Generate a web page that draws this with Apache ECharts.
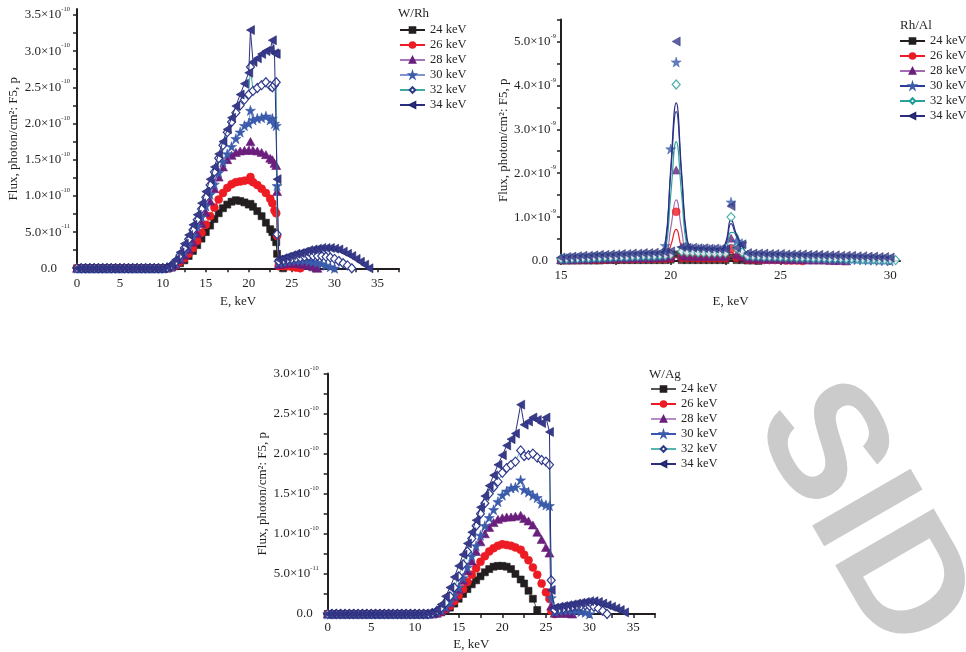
<!DOCTYPE html>
<html>
<head>
<meta charset="utf-8">
<script src="https://cdn.jsdelivr.net/npm/echarts@6/dist/echarts.min.js"></script>
<style>
html,body{margin:0;padding:0;background:#ffffff;}
#chart{width:966px;height:652px;}
</style>
</head>
<body>
<div id="chart"></div>
<script>
// ---------- W/Rh spectra (flux in units of 1e-10) ----------
const eWRh = [0,0.5,1,1.5,2,2.5,3,3.5,4,4.5,5,5.5,6,6.5,7,7.5,8,8.5,9,9.5,10,10.5,11,11.5,12,12.5,13,13.5,14,14.5,15,15.5,16,16.5,17,17.5,18,18.5,19,19.5,20,20.2,20.5,21,21.5,22,22.5,22.75,23,23.2,23.3,23.5,24,24.5,25,25.5,26,26.5,27,27.5,28,28.5,29,29.5,30,30.5,31,31.5,32,32.5,33,33.5,34];
const wRh24 = [0,0,0,0,0,0,0,0,0,0,0,0,0,0,0,0,0,0,0,0,0, 0,0.01,0.03,0.07,0.11,0.17,0.24,0.32,0.41,0.5,0.59,0.68,0.76,0.83,0.88,0.92,0.94,0.93,0.91,0.88, 0.89,0.85,0.79,0.72,0.63,0.54,0.5,0.43,0.36,0.2,0.06,0];
const wRh26 = [0,0,0,0,0,0,0,0,0,0,0,0,0,0,0,0,0,0,0,0,0, 0,0.015,0.04,0.09,0.14,0.2,0.28,0.38,0.49,0.6,0.72,0.84,0.95,1.04,1.11,1.16,1.19,1.2,1.21,1.22, 1.26,1.19,1.15,1.1,1.04,0.96,0.9,0.8,0.76,0.45,0.03,0.03,0.03,0.02,0.01,0];
const wRh28 = [0,0,0,0,0,0,0,0,0,0,0,0,0,0,0,0,0,0,0,0,0, 0.005,0.02,0.05,0.12,0.18,0.26,0.36,0.48,0.62,0.77,0.93,1.1,1.26,1.4,1.5,1.56,1.6,1.62,1.63,1.63, 1.75,1.63,1.62,1.6,1.57,1.52,1.5,1.45,1.42,1.06,0.05,0.06,0.07,0.07,0.07,0.06,0.05,0.04,0.02,0];
const wRh30 = [0,0,0,0,0,0,0,0,0,0,0,0,0,0,0,0,0,0,0,0,0, 0.01,0.03,0.07,0.15,0.23,0.33,0.45,0.58,0.71,0.86,1.02,1.16,1.32,1.47,1.58,1.68,1.79,1.88,1.97,2.0, 2.18,2.05,2.07,2.08,2.1,2.05,2.07,2.0,1.97,1.14,0.08,0.09,0.1,0.11,0.11,0.11,0.11,0.1,0.09,0.08,0.06,0.04,0.02,0];
const wRh32 = [0,0,0,0,0,0,0,0,0,0,0,0,0,0,0,0,0,0,0,0,0, 0.01,0.04,0.09,0.18,0.28,0.4,0.53,0.67,0.82,0.98,1.15,1.33,1.52,1.7,1.88,2.02,2.15,2.25,2.33,2.4, 2.78,2.45,2.49,2.53,2.57,2.52,2.5,2.53,2.57,0.47,0.1,0.11,0.12,0.13,0.14,0.15,0.16,0.17,0.17,0.17,0.17,0.16,0.15,0.13,0.1,0.07,0.04,0];
const wRh34 = [0,0,0,0,0,0,0,0,0,0,0,0,0,0,0,0,0,0,0,0,0, 0.02,0.05,0.12,0.22,0.34,0.46,0.6,0.74,0.9,1.06,1.23,1.4,1.58,1.75,1.92,2.08,2.24,2.4,2.55,2.7, 3.29,2.85,2.9,2.96,3.0,3.02,3.15,2.97,2.96,1.23,0.12,0.14,0.16,0.18,0.2,0.21,0.23,0.25,0.26,0.27,0.28,0.28,0.28,0.27,0.26,0.23,0.2,0.17,0.13,0.09,0.05,0];

// ---------- Rh/Al spectra (flux in units of 1e-9) ----------
const eRhAl = [15,15.25,15.5,15.75,16,16.25,16.5,16.75,17,17.25,17.5,17.75,18,18.25,18.5,18.75,19,19.25,19.5,19.75,20,20.25,20.5,20.75,21,21.25,21.5,21.75,22,22.25,22.5,22.75,23,23.25,23.5,23.75,24,24.25,24.5,24.75,25,25.25,25.5,25.75,26,26.25,26.5,26.75,27,27.25,27.5,27.75,28,28.25,28.5,28.75,29,29.25,29.5,29.75,30,30.25];
const rhAl24 = [0.01,0.01,0.01,0.01,0.01,0.01,0.01,0.01,0.02,0.02,0.02,0.02,0.02,0.02,0.02,0.02,0.02,0.02,0.02,0.02, 0.03,0.15,0.02,0.02,0.02,0.02,0.02,0.02,0.02,0.02,0.02,0.08,0.02,0.02,0.01,0.01,0];
const rhAl26 = [0.02,0.02,0.02,0.02,0.03,0.03,0.03,0.03,0.03,0.04,0.04,0.04,0.04,0.04,0.05,0.05,0.05,0.05,0.05,0.05, 0.06,1.12,0.07,0.07,0.07,0.06,0.06,0.06,0.06,0.06,0.06,0.27,0.07,0.1,0.03,0.03,0.03,0.02,0.02,0.02,0.02,0.01,0.01,0.01,0];
const rhAl28 = [0.03,0.03,0.03,0.04,0.04,0.04,0.05,0.05,0.05,0.05,0.06,0.06,0.06,0.06,0.07,0.07,0.07,0.07,0.08,0.08, 0.1,2.07,0.12,0.11,0.11,0.1,0.1,0.1,0.1,0.1,0.1,0.52,0.15,0.1,0.05,0.05,0.05,0.04,0.04,0.04,0.04,0.03,0.03,0.03,0.03,0.02,0.02,0.02,0.02,0.01,0.01,0.01,0];
const rhAl30 = [0.05,0.05,0.06,0.06,0.07,0.07,0.08,0.08,0.09,0.09,0.1,0.1,0.1,0.11,0.11,0.11,0.12,0.12,0.12,0.35, 2.55,4.53,0.3,0.29,0.28,0.28,0.27,0.27,0.26,0.26,0.25,1.34,0.45,0.4,0.13,0.12,0.12,0.11,0.11,0.1,0.1,0.1,0.09,0.09,0.08,0.08,0.07,0.07,0.06,0.06,0.05,0.05,0.04,0.04,0.03,0.03,0.02,0.02,0.01,0.01,0];
const rhAl32 = [0.05,0.05,0.06,0.06,0.07,0.07,0.08,0.08,0.09,0.09,0.1,0.1,0.1,0.11,0.11,0.12,0.12,0.12,0.13,0.13, 0.15,4.02,0.22,0.2,0.2,0.19,0.19,0.18,0.18,0.18,0.18,1.0,0.3,0.2,0.12,0.11,0.11,0.1,0.1,0.1,0.09,0.09,0.09,0.08,0.08,0.08,0.07,0.07,0.07,0.06,0.06,0.06,0.05,0.05,0.05,0.04,0.04,0.04,0.03,0.03,0.03,0.02];
const rhAl34 = [0.08,0.09,0.1,0.11,0.12,0.12,0.13,0.14,0.14,0.15,0.15,0.16,0.16,0.17,0.17,0.18,0.18,0.19,0.19,0.2, 0.22,5.0,0.32,0.3,0.3,0.29,0.29,0.28,0.28,0.27,0.27,1.25,0.3,0.38,0.18,0.17,0.17,0.17,0.16,0.16,0.16,0.15,0.15,0.15,0.15,0.14,0.14,0.14,0.13,0.13,0.13,0.12,0.12,0.12,0.11,0.11,0.1,0.1,0.09,0.09,0.08];
// smoothed curve through the Rh K-alpha and K-beta lines
const rhAlKaE = [19.75, 20, 20.25, 20.5, 20.75];
const rhAlKbE = [22.5, 22.75, 23, 23.25];
const curveKa24 = [0.02, 0.06, 0.12, 0.04, 0.02], curveKb24 = [0.02, 0.06, 0.03, 0.02];
const curveKa26 = [0.06, 0.35, 0.72, 0.3, 0.07], curveKb26 = [0.07, 0.2, 0.1, 0.08];
const curveKa28 = [0.1, 0.75, 1.39, 0.7, 0.13], curveKb28 = [0.12, 0.38, 0.28, 0.1];
const curveKa30 = [0.4, 2.0, 3.4, 1.9, 0.4], curveKb30 = [0.35, 0.85, 0.55, 0.35];
const curveKa32 = [0.2, 1.5, 2.72, 1.5, 0.3], curveKb32 = [0.22, 0.65, 0.62, 0.22];
const curveKa34 = [0.3, 2.1, 3.6, 2.0, 0.5], curveKb34 = [0.42, 0.95, 0.6, 0.35];

// ---------- W/Ag spectra (flux in units of 1e-10) ----------
const eWAg = [0,0.5,1,1.5,2,2.5,3,3.5,4,4.5,5,5.5,6,6.5,7,7.5,8,8.5,9,9.5,10,10.5,11,11.5,12,12.5,13,13.5,14,14.5,15,15.5,16,16.5,17,17.5,18,18.5,19,19.5,20,20.5,21,21.5,22.1,22.5,23,23.5,24,24.5,25,25.4,25.6,26,26.5,27,27.5,28,28.5,29,29.5,30,30.5,31,31.5,32,32.5,33,33.5,34];
const wAg24 = [0,0,0,0,0,0,0,0,0,0,0,0,0,0,0,0,0,0,0,0,0,0,0,0,0, 0.01,0.02,0.04,0.08,0.13,0.19,0.25,0.31,0.37,0.42,0.47,0.52,0.56,0.59,0.6,0.6,0.59,0.56,0.5, 0.43,0.38,0.29,0.19,0.05];
const wAg26 = [0,0,0,0,0,0,0,0,0,0,0,0,0,0,0,0,0,0,0,0,0,0,0,0,0, 0.01,0.03,0.06,0.1,0.16,0.23,0.31,0.4,0.49,0.57,0.65,0.72,0.78,0.82,0.85,0.87,0.86,0.85,0.83, 0.8,0.74,0.67,0.58,0.49,0.38,0.27,0.19,0.04,0];
const wAg28 = [0,0,0,0,0,0,0,0,0,0,0,0,0,0,0,0,0,0,0,0,0,0,0,0,0, 0.01,0.04,0.08,0.14,0.22,0.31,0.42,0.54,0.66,0.78,0.9,1.0,1.08,1.14,1.18,1.2,1.21,1.21,1.22, 1.23,1.19,1.16,1.11,1.02,0.93,0.83,0.76,0.1,0.01,0.01,0.01,0.01,0];
const wAg30 = [0,0,0,0,0,0,0,0,0,0,0,0,0,0,0,0,0,0,0,0,0,0,0,0, 0.01,0.03,0.05,0.09,0.15,0.23,0.33,0.45,0.58,0.72,0.85,0.98,1.1,1.2,1.3,1.4,1.48,1.53,1.57,1.58, 1.67,1.55,1.52,1.48,1.45,1.38,1.36,1.35,0.2,0.03,0.04,0.05,0.05,0.05,0.04,0.03,0.02,0];
const wAg32 = [0,0,0,0,0,0,0,0,0,0,0,0,0,0,0,0,0,0,0,0,0,0,0,0, 0.01,0.04,0.08,0.14,0.22,0.33,0.47,0.62,0.78,0.94,1.1,1.25,1.38,1.5,1.58,1.65,1.76,1.82,1.86,1.9, 2.04,1.97,1.98,2.0,1.95,1.92,1.9,1.86,0.42,0.05,0.06,0.07,0.08,0.09,0.1,0.1,0.11,0.1,0.09,0.07,0.04,0];
const wAg34 = [0,0,0,0,0,0,0,0,0,0,0,0,0,0,0,0,0,0,0,0,0,0,0, 0.01,0.02,0.05,0.12,0.22,0.33,0.46,0.6,0.74,0.88,1.02,1.17,1.33,1.47,1.6,1.73,1.86,1.98,2.1,2.18,2.25, 2.61,2.36,2.4,2.45,2.42,2.38,2.45,2.27,0.3,0.08,0.09,0.1,0.11,0.12,0.13,0.14,0.15,0.16,0.16,0.15,0.13,0.11,0.09,0.07,0.05,0.02];

// ---------- labels ----------
const tubeVoltages = ['24 keV', '26 keV', '28 keV', '30 keV', '32 keV', '34 keV'];
const wRhTickLabels = ['0.0', '5.0×10^-11', '1.0×10^-10', '1.5×10^-10', '2.0×10^-10', '2.5×10^-10', '3.0×10^-10', '3.5×10^-10'];
const rhAlTickLabels = ['0.0', '1.0×10^-9', '2.0×10^-9', '3.0×10^-9', '4.0×10^-9', '5.0×10^-9'];
const wAgTickLabels = ['0.0', '5.0×10^-11', '1.0×10^-10', '1.5×10^-10', '2.0×10^-10', '2.5×10^-10', '3.0×10^-10'];
const panelTitles = ['W/Rh', 'Rh/Al', 'W/Ag'];
const xAxisTitle = 'E, keV';
const yAxisTitle = 'Flux, photon/cm²: F5, p';
const watermarkText = 'SID';

// ---------- appearance ----------
const FONT = 'Liberation Serif';
const INK = '#231f20';
const STAR = 'path://M50,0 L61.2,34.5 L97.6,34.5 L68.2,55.9 L79.4,90.5 L50,69.1 L20.6,90.5 L31.8,55.9 L2.4,34.5 L38.8,34.5 Z';
const LEFT_TRI = 'path://M0,50 L100,0 L100,100 Z';
const markerStyles = [
  {symbol: 'rect', size: 7, fill: '#231f20', stroke: '#231f20', line: '#231f20'},
  {symbol: 'circle', size: 8, fill: '#ed1c24', stroke: '#ed1c24', line: '#ed1c24'},
  {symbol: 'triangle', size: [9, 8], fill: '#6b1f7c', stroke: '#6b1f7c', line: '#a577b7'},
  {symbol: STAR, size: 10, fill: '#3b5bab', stroke: '#3b5bab', line: '#7f95d0'},
  {symbol: 'diamond', size: [8, 9], fill: '#ffffff', stroke: '#2e3a8c', line: '#3fa9a3'},
  {symbol: LEFT_TRI, size: [8, 9], fill: '#383b8c', stroke: '#22256e', line: '#2b2e7e'}
];

function pairs(energies, values) {
  return values.map((v, i) => [energies[i], v]);
}

function spectrumSeries(panel, idx, energies, values, overrides) {
  const st = Object.assign({}, markerStyles[idx], overrides || {});
  return {
    type: 'line',
    name: panelTitles[panel] + '|' + tubeVoltages[idx],
    xAxisIndex: panel, yAxisIndex: panel,
    data: pairs(energies, values),
    symbol: st.symbol, symbolSize: st.size, showSymbol: true,
    lineStyle: {color: st.line, width: 1},
    itemStyle: {color: st.fill, borderColor: st.stroke, borderWidth: st.fill === '#ffffff' ? 1.2 : 0.6},
    animation: false, z: 2 + idx
  };
}

function curveData(energies, markers, ka, kb) {
  return markers.map((v, i) => {
    const e = energies[i];
    const a = rhAlKaE.indexOf(e);
    if (a >= 0) return [e, ka[a]];
    const b = rhAlKbE.indexOf(e);
    if (b >= 0) return [e, kb[b]];
    return [e, v];
  });
}

function rhAlSeries(idx, markers, ka, kb, overrides) {
  const st = Object.assign({}, markerStyles[idx], overrides || {});
  const name = panelTitles[1] + '|' + tubeVoltages[idx];
  const item = {color: st.fill, borderColor: st.stroke, borderWidth: st.fill === '#ffffff' ? 1.2 : 0.6};
  return [
    {
      type: 'line', name: name, xAxisIndex: 1, yAxisIndex: 1,
      data: curveData(eRhAl, markers, ka, kb),
      smooth: 0.5, showSymbol: false, symbol: st.symbol, symbolSize: st.size,
      lineStyle: {color: st.line, width: 1.2}, itemStyle: item,
      animation: false, z: 2 + idx
    },
    {
      type: 'scatter', name: name, xAxisIndex: 1, yAxisIndex: 1,
      data: pairs(eRhAl, markers),
      symbol: st.symbol, symbolSize: st.size, itemStyle: item,
      animation: false, z: 3 + idx
    }
  ];
}

function yLabelFormatter(step, labels) {
  return function (v) {
    const k = Math.round(v / step);
    if (Math.abs(v - k * step) > 1e-6 || !labels[k]) return '';
    const t = labels[k];
    if (t.indexOf('^') < 0) return '{z|' + t + '}';
    const parts = t.split('^');
    return '{m|' + parts[0] + '}{e|' + parts[1] + '}';
  };
}

function yRich(zeroPad) {
  return {
    m: {fontSize: 13, fontFamily: FONT, color: INK, lineHeight: 18},
    e: {fontSize: 6.5, fontFamily: FONT, color: INK, verticalAlign: 'top', lineHeight: 6},
    z: {fontSize: 13, fontFamily: FONT, color: INK, padding: [0, zeroPad, 0, 0]}
  };
}

const axisLineStyle = {show: true, lineStyle: {color: INK, width: 2}};
const axisTickStyle = {show: true, inside: false, length: 4, lineStyle: {color: INK, width: 1.5}};
const nameStyle = {fontSize: 13, fontFamily: FONT, color: INK};

function xAxisCfg(grid, min, max, ticks, nameGap, namePad, margin) {
  return {
    type: 'value', gridIndex: grid, min: min, max: max, interval: 2.5,
    axisLine: axisLineStyle,
    axisTick: Object.assign({}, axisTickStyle, {customValues: ticks}),
    axisLabel: {
      margin: margin, fontSize: 13, fontFamily: FONT, color: INK,
      formatter: v => (Math.abs(v / 5 - Math.round(v / 5)) < 1e-6 ? String(v) : '')
    },
    splitLine: {show: false},
    name: xAxisTitle, nameLocation: 'middle', nameGap: nameGap,
    nameTextStyle: Object.assign({}, nameStyle, {padding: namePad || 0})
  };
}

function yAxisCfg(grid, max, interval, labelStep, labels, ticks, margin, zeroPad, nameGap) {
  return {
    type: 'value', gridIndex: grid, min: 0, max: max, interval: interval,
    axisLine: axisLineStyle,
    axisTick: Object.assign({}, axisTickStyle, {customValues: ticks}),
    axisLabel: {margin: margin, formatter: yLabelFormatter(labelStep, labels), rich: yRich(zeroPad)},
    splitLine: {show: false},
    name: yAxisTitle, nameLocation: 'middle', nameGap: nameGap, nameTextStyle: nameStyle
  };
}

const wRhYTicks = [0,0.25,0.5,0.75,1,1.25,1.5,1.75,2,2.25,2.5,2.75,3,3.25,3.5];
const rhAlXTicks = [15,17.5,20,22.5,25,27.5,30];
const rhAlYTicks = [0,0.5,1,1.5,2,2.5,3,3.5,4,4.5,5,5.5];
const wAgYTicks = [0,0.25,0.5,0.75,1,1.25,1.5,1.75,2,2.25,2.5,2.75,3];
const energyTicks = [0,2.5,5,7.5,10,12.5,15,17.5,20,22.5,25,27.5,30,32.5,35,37.5];

const series = [];
[wRh24, wRh26, wRh28, wRh30, wRh32, wRh34].forEach((vals, i) => series.push(spectrumSeries(0, i, eWRh, vals)));
const rhAlOverrides = [null, null, {line: '#a36bb0'}, {line: '#2d3d96'}, {stroke: '#1f9e98', line: '#2aa19b'}, null];
[[rhAl24, curveKa24, curveKb24], [rhAl26, curveKa26, curveKb26], [rhAl28, curveKa28, curveKb28],
 [rhAl30, curveKa30, curveKb30], [rhAl32, curveKa32, curveKb32], [rhAl34, curveKa34, curveKb34]]
  .forEach((s, i) => series.push(...rhAlSeries(i, s[0], s[1], s[2], rhAlOverrides[i])));
const wAgOverrides = [{line: '#555555'}, null, {line: '#b58cc4'}, {line: '#3a55b0'}, {line: '#56b5ae'}, null];
[wAg24, wAg26, wAg28, wAg30, wAg32, wAg34].forEach((vals, i) => series.push(spectrumSeries(2, i, eWAg, vals, wAgOverrides[i])));

function legendCfg(panel, left, top) {
  return {
    left: left, top: top, orient: 'vertical', padding: 0,
    itemWidth: 25, itemHeight: 7, itemGap: 1,
    data: tubeVoltages.map(t => panelTitles[panel] + '|' + t),
    formatter: n => n.split('|')[1],
    textStyle: {fontSize: 12.5, fontFamily: FONT, color: INK, lineHeight: 14},
    selectedMode: false
  };
}

const option = {
  backgroundColor: '#ffffff',
  animation: false,
  textStyle: {fontFamily: FONT},
  grid: [
    {left: 77, top: 9.1, width: 322, height: 259.2},
    {left: 561, top: 19.5, width: 339, height: 241.5},
    {left: 327.7, top: 373.4, width: 327.4, height: 240.6}
  ],
  xAxis: [
    xAxisCfg(0, 0, 37.5, energyTicks, 27, 0, 9),
    xAxisCfg(1, 15, 30.45, rhAlXTicks, 34, 0, 8),
    xAxisCfg(2, 0, 37.5, energyTicks, 24, [0, 40, 0, 0], 7)
  ],
  yAxis: [
    yAxisCfg(0, 3.58, 0.25, 0.5, wRhTickLabels, wRhYTicks, 7, 13, 57),
    yAxisCfg(1, 5.5, 0.5, 1, rhAlTickLabels, rhAlYTicks, 5, 8, 49),
    yAxisCfg(2, 3.0, 0.25, 0.5, wAgTickLabels, wAgYTicks, 9, 6, 58)
  ],
  legend: [legendCfg(0, 399, 23), legendCfg(1, 899, 34), legendCfg(2, 650, 382)],
  graphic: [
    // faint archive stamp behind the lower-right corner
    {type: 'text', x: 860, y: 517, rotation: -1.047, z: -10, silent: true,
     style: {text: watermarkText, font: 'bold 165px "Liberation Sans"', fill: '#cbcbcb', align: 'center', verticalAlign: 'middle'}},
    {type: 'text', left: 398, top: 7, style: {text: panelTitles[0], font: '13px "Liberation Serif"', fill: INK}},
    {type: 'text', left: 900, top: 19, style: {text: panelTitles[1], font: '13px "Liberation Serif"', fill: INK}},
    {type: 'text', left: 649, top: 368, style: {text: panelTitles[2], font: '13px "Liberation Serif"', fill: INK}}
  ],
  series: series
};

const chart = echarts.init(document.getElementById('chart'), null, {renderer: 'canvas'});
chart.setOption(option);
</script>
</body>
</html>
